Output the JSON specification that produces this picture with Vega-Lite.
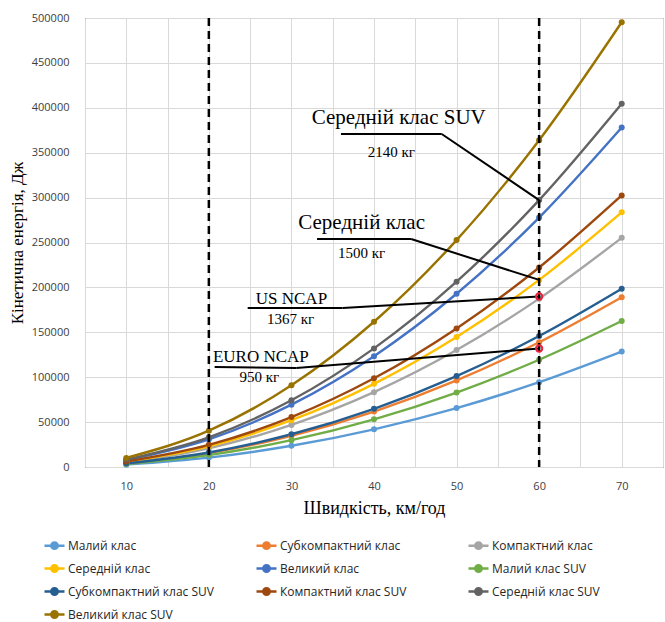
{
  "$schema": "https://vega.github.io/schema/vega-lite/v6.json",
  "width": 578,
  "height": 449,
  "autosize": "none",
  "padding": {"left": 85, "top": 18, "right": 2, "bottom": 155},
  "background": "white",
  "config": {
    "view": {"stroke": "#404040", "strokeWidth": 1},
    "axis": {"labelFont": "Open Sans", "labelFontSize": 11, "labelColor": "#404040", "titleFont": "Liberation Serif", "titleFontWeight": "normal", "titleColor": "#000000", "gridColor": "#D9D9D9", "gridWidth": 1, "ticks": false, "domain": false}
  },
  "datasets": {
    "series": [
      {"speed": 10, "cls": "Малий клас", "energy": 2623},
      {"speed": 20, "cls": "Малий клас", "energy": 10494},
      {"speed": 30, "cls": "Малий клас", "energy": 23611},
      {"speed": 40, "cls": "Малий клас", "energy": 41975},
      {"speed": 50, "cls": "Малий клас", "energy": 65586},
      {"speed": 60, "cls": "Малий клас", "energy": 94444},
      {"speed": 70, "cls": "Малий клас", "energy": 128549},
      {"speed": 10, "cls": "Субкомпактний клас", "energy": 3858},
      {"speed": 20, "cls": "Субкомпактний клас", "energy": 15432},
      {"speed": 30, "cls": "Субкомпактний клас", "energy": 34722},
      {"speed": 40, "cls": "Субкомпактний клас", "energy": 61728},
      {"speed": 50, "cls": "Субкомпактний клас", "energy": 96451},
      {"speed": 60, "cls": "Субкомпактний клас", "energy": 138889},
      {"speed": 70, "cls": "Субкомпактний клас", "energy": 189043},
      {"speed": 10, "cls": "Компактний клас", "energy": 5208},
      {"speed": 20, "cls": "Компактний клас", "energy": 20833},
      {"speed": 30, "cls": "Компактний клас", "energy": 46875},
      {"speed": 40, "cls": "Компактний клас", "energy": 83333},
      {"speed": 50, "cls": "Компактний клас", "energy": 130208},
      {"speed": 60, "cls": "Компактний клас", "energy": 187500},
      {"speed": 70, "cls": "Компактний клас", "energy": 255208},
      {"speed": 10, "cls": "Середній клас", "energy": 5787},
      {"speed": 20, "cls": "Середній клас", "energy": 23148},
      {"speed": 30, "cls": "Середній клас", "energy": 52083},
      {"speed": 40, "cls": "Середній клас", "energy": 92593},
      {"speed": 50, "cls": "Середній клас", "energy": 144676},
      {"speed": 60, "cls": "Середній клас", "energy": 208333},
      {"speed": 70, "cls": "Середній клас", "energy": 283565},
      {"speed": 10, "cls": "Великий клас", "energy": 7716},
      {"speed": 20, "cls": "Великий клас", "energy": 30864},
      {"speed": 30, "cls": "Великий клас", "energy": 69444},
      {"speed": 40, "cls": "Великий клас", "energy": 123457},
      {"speed": 50, "cls": "Великий клас", "energy": 192901},
      {"speed": 60, "cls": "Великий клас", "energy": 277778},
      {"speed": 70, "cls": "Великий клас", "energy": 378086},
      {"speed": 10, "cls": "Малий клас SUV", "energy": 3318},
      {"speed": 20, "cls": "Малий клас SUV", "energy": 13272},
      {"speed": 30, "cls": "Малий клас SUV", "energy": 29861},
      {"speed": 40, "cls": "Малий клас SUV", "energy": 53086},
      {"speed": 50, "cls": "Малий клас SUV", "energy": 82948},
      {"speed": 60, "cls": "Малий клас SUV", "energy": 119444},
      {"speed": 70, "cls": "Малий клас SUV", "energy": 162577},
      {"speed": 10, "cls": "Субкомпактний клас SUV", "energy": 4051},
      {"speed": 20, "cls": "Субкомпактний клас SUV", "energy": 16204},
      {"speed": 30, "cls": "Субкомпактний клас SUV", "energy": 36458},
      {"speed": 40, "cls": "Субкомпактний клас SUV", "energy": 64815},
      {"speed": 50, "cls": "Субкомпактний клас SUV", "energy": 101273},
      {"speed": 60, "cls": "Субкомпактний клас SUV", "energy": 145833},
      {"speed": 70, "cls": "Субкомпактний клас SUV", "energy": 198495},
      {"speed": 10, "cls": "Компактний клас SUV", "energy": 6173},
      {"speed": 20, "cls": "Компактний клас SUV", "energy": 24691},
      {"speed": 30, "cls": "Компактний клас SUV", "energy": 55556},
      {"speed": 40, "cls": "Компактний клас SUV", "energy": 98765},
      {"speed": 50, "cls": "Компактний клас SUV", "energy": 154321},
      {"speed": 60, "cls": "Компактний клас SUV", "energy": 222222},
      {"speed": 70, "cls": "Компактний клас SUV", "energy": 302469},
      {"speed": 10, "cls": "Середній клас SUV", "energy": 8256},
      {"speed": 20, "cls": "Середній клас SUV", "energy": 33025},
      {"speed": 30, "cls": "Середній клас SUV", "energy": 74306},
      {"speed": 40, "cls": "Середній клас SUV", "energy": 132099},
      {"speed": 50, "cls": "Середній клас SUV", "energy": 206404},
      {"speed": 60, "cls": "Середній клас SUV", "energy": 297222},
      {"speed": 70, "cls": "Середній клас SUV", "energy": 404552},
      {"speed": 10, "cls": "Великий клас SUV", "energy": 10108},
      {"speed": 20, "cls": "Великий клас SUV", "energy": 40432},
      {"speed": 30, "cls": "Великий клас SUV", "energy": 90972},
      {"speed": 40, "cls": "Великий клас SUV", "energy": 161728},
      {"speed": 50, "cls": "Великий клас SUV", "energy": 252701},
      {"speed": 60, "cls": "Великий клас SUV", "energy": 363889},
      {"speed": 70, "cls": "Великий клас SUV", "energy": 495293}
    ],
    "dashed": [{"speed": 20}, {"speed": 60}],
    "ncap": [{"speed": 60, "energy": 189860}, {"speed": 60, "energy": 131944}],
    "leaders": [
      {"x": 36.0, "y": 370800, "x2": 48.2, "y2": 370800},
      {"x": 48.2, "y": 370800, "x2": 60, "y2": 297222},
      {"x": 33.1, "y": 253900, "x2": 44.5, "y2": 253900},
      {"x": 44.5, "y": 253900, "x2": 60, "y2": 208333},
      {"x": 24.7, "y": 177100, "x2": 36.2, "y2": 177100},
      {"x": 36.2, "y": 177100, "x2": 60, "y2": 189860},
      {"x": 20.7, "y": 111400, "x2": 30.6, "y2": 110300},
      {"x": 30.6, "y": 110300, "x2": 60, "y2": 131944}
    ],
    "bigLabels": [
      {"x": 43.0, "y": 388600, "text": "Середній клас SUV"},
      {"x": 38.5, "y": 271700, "text": "Середній клас"}
    ],
    "midLabels": [
      {"x": 30.0, "y": 187100, "text": "US NCAP"},
      {"x": 26.3, "y": 122500, "text": "EURO NCAP"}
    ],
    "massLabels": [
      {"x": 42.1, "y": 350800, "text": "2140 кг"},
      {"x": 38.5, "y": 238300, "text": "1500 кг"},
      {"x": 29.9, "y": 164800, "text": "1367 кг"},
      {"x": 26.1, "y": 100600, "text": "950 кг"}
    ]
  },
  "layer": [
    {
      "data": {"name": "series"},
      "mark": {"type": "line", "interpolate": "monotone", "strokeWidth": 2.4},
      "encoding": {
        "x": {"field": "speed", "type": "quantitative", "scale": {"domain": [5, 75], "nice": false},
          "axis": {"values": [5, 10, 15, 20, 25, 30, 35, 40, 45, 50, 55, 60, 65, 70, 75], "labelExpr": "datum.value % 10 == 0 && datum.value >= 10 && datum.value <= 70 ? datum.label : ''", "title": "Швидкість, км/год", "titleFontSize": 18, "labelPadding": 13, "titlePadding": 8, "labelFlush": false, "labelOverlap": false}},
        "y": {"field": "energy", "type": "quantitative", "scale": {"domain": [0, 500000], "nice": false},
          "axis": {"values": [0, 50000, 100000, 150000, 200000, 250000, 300000, 350000, 400000, 450000, 500000], "format": "d", "title": "Кінетична енергія, Дж", "titleFontSize": 17, "labelPadding": 16, "titlePadding": 5, "labelFlush": false, "labelOverlap": false}},
        "color": {"field": "cls", "type": "nominal",
          "scale": {"domain": ["Малий клас", "Субкомпактний клас", "Компактний клас", "Середній клас", "Великий клас", "Малий клас SUV", "Субкомпактний клас SUV", "Компактний клас SUV", "Середній клас SUV", "Великий клас SUV"],
            "range": ["#5B9BD5", "#ED7D31", "#A5A5A5", "#FFC000", "#4472C4", "#70AD47", "#255E91", "#9E480E", "#636363", "#997300"]},
          "legend": {"title": null, "orient": "none", "legendX": -42, "legendY": 516, "columns": 3, "direction": "horizontal", "gridAlign": "all", "columnPadding": 37, "rowPadding": 3,
            "labelFont": "Open Sans", "labelFontSize": 12, "labelColor": "#262626", "labelOffset": 2,
            "symbolType": "M -1 0 L 1 0 M 0.32 0 A 0.32 0.32 0 1 1 -0.32 0 A 0.32 0.32 0 1 1 0.32 0 Z",
            "symbolSize": 400, "symbolStrokeWidth": 2.5,
            "encode": {"symbols": {"update": {"fill": {"scale": "color", "field": "value"}, "opacity": {"value": 1}}}}}}
      }
    },
    {
      "data": {"name": "series"},
      "mark": {"type": "point", "filled": true, "size": 36, "opacity": 1},
      "encoding": {
        "x": {"field": "speed", "type": "quantitative", "scale": {"domain": [5, 75], "nice": false}},
        "y": {"field": "energy", "type": "quantitative", "scale": {"domain": [0, 500000], "nice": false}},
        "color": {"field": "cls", "type": "nominal"}
      }
    },
    {
      "data": {"name": "dashed"},
      "mark": {"type": "rule", "color": "#000000", "strokeWidth": 2.5, "strokeDash": [8, 5]},
      "encoding": {
        "x": {"field": "speed", "type": "quantitative", "scale": {"domain": [5, 75], "nice": false}}
      }
    },
    {
      "data": {"name": "leaders"},
      "mark": {"type": "rule", "color": "#000000", "strokeWidth": 2},
      "encoding": {
        "x": {"field": "x", "type": "quantitative", "scale": {"domain": [5, 75], "nice": false}},
        "y": {"field": "y", "type": "quantitative", "scale": {"domain": [0, 500000], "nice": false}},
        "x2": {"field": "x2"},
        "y2": {"field": "y2"}
      }
    },
    {
      "data": {"name": "ncap"},
      "mark": {"type": "point", "filled": false, "stroke": "#E8203A", "strokeWidth": 2, "size": 40, "opacity": 1},
      "encoding": {
        "x": {"field": "speed", "type": "quantitative", "scale": {"domain": [5, 75], "nice": false}},
        "y": {"field": "energy", "type": "quantitative", "scale": {"domain": [0, 500000], "nice": false}}
      }
    },
    {
      "data": {"name": "bigLabels"},
      "mark": {"type": "text", "font": "Liberation Serif", "fontSize": 21, "color": "#000000", "align": "center", "baseline": "middle"},
      "encoding": {
        "x": {"field": "x", "type": "quantitative", "scale": {"domain": [5, 75], "nice": false}},
        "y": {"field": "y", "type": "quantitative", "scale": {"domain": [0, 500000], "nice": false}},
        "text": {"field": "text"}
      }
    },
    {
      "data": {"name": "midLabels"},
      "mark": {"type": "text", "font": "Liberation Serif", "fontSize": 17, "color": "#000000", "align": "center", "baseline": "middle"},
      "encoding": {
        "x": {"field": "x", "type": "quantitative", "scale": {"domain": [5, 75], "nice": false}},
        "y": {"field": "y", "type": "quantitative", "scale": {"domain": [0, 500000], "nice": false}},
        "text": {"field": "text"}
      }
    },
    {
      "data": {"name": "massLabels"},
      "mark": {"type": "text", "font": "Liberation Serif", "fontSize": 15, "color": "#000000", "align": "center", "baseline": "middle"},
      "encoding": {
        "x": {"field": "x", "type": "quantitative", "scale": {"domain": [5, 75], "nice": false}},
        "y": {"field": "y", "type": "quantitative", "scale": {"domain": [0, 500000], "nice": false}},
        "text": {"field": "text"}
      }
    }
  ]
}
